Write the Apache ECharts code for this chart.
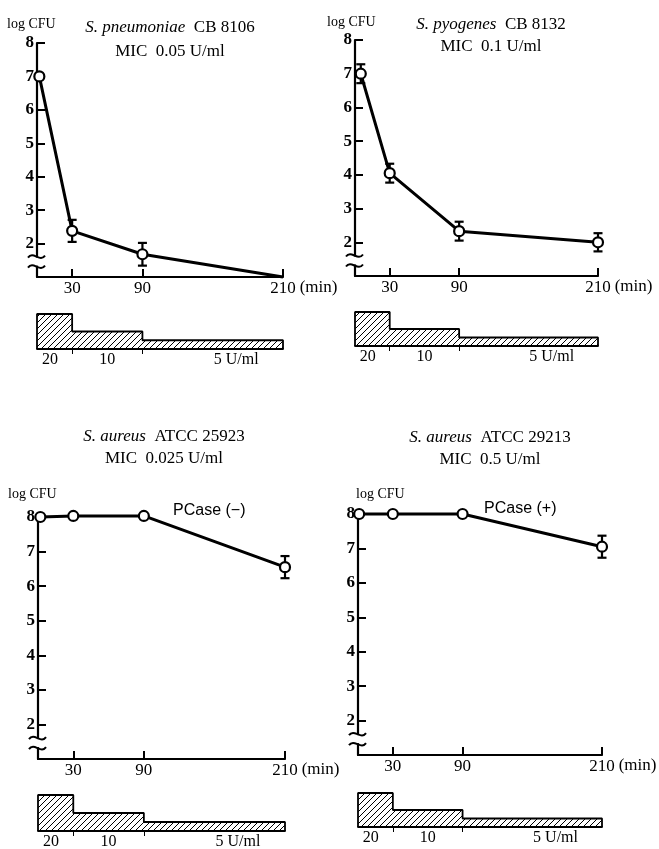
<!DOCTYPE html>
<html>
<head>
<meta charset="utf-8">
<script src="https://cdn.jsdelivr.net/npm/echarts@6/dist/echarts.min.js"></script>
<style>
html,body{margin:0;padding:0;background:#fff;}
#chart{width:659px;height:849px;}
</style>
</head>
<body>
<div id="chart"></div>
<script>
// ---------------- DATA ----------------
const timesTL = [2, 30, 90, 210];
const logTL   = [7.0, 2.38, 1.68, 1.0];
const errTL   = [0, 0.33, 0.34, 0];

const timesTR = [5, 30, 90, 210];
const logTR   = [7.0, 4.05, 2.33, 2.0];
const errTR   = [0.28, 0.28, 0.28, 0.27];

const timesBL = [2, 30, 90, 210];
const logBL   = [8.0, 8.03, 8.03, 6.55];
const errBL   = [0, 0, 0, 0.32];

const timesBR = [1, 30, 90, 210];
const logBR   = [8.0, 8.0, 8.0, 7.05];
const errBR   = [0, 0, 0, 0.32];

const xTickValues = [30, 90, 210];
const yTickValues = [2, 3, 4, 5, 6, 7, 8];
const yMin = 1, yMax = 8;
const breakAt = 1.46;

const doseStart = [0, 30, 90];
const doseEnd   = [30, 90, 210];
const doseLevel = [20, 10, 5];
const doseLabels = ['20', '10', '5 U/ml'];
const doseLabelAt = [11, 60, 170];

const species = ['S. pneumoniae', 'S. pyogenes', 'S. aureus', 'S. aureus'];
const strains = ['CB 8106', 'CB 8132', 'ATCC 25923', 'ATCC 29213'];
const mics    = ['MIC  0.05 U/ml', 'MIC  0.1 U/ml', 'MIC  0.025 U/ml', 'MIC  0.5 U/ml'];
const pcaseNotes = [null, null, 'PCase (\u2212)', 'PCase (+)'];

// ---------------- LAYOUT ----------------
const SERIF = '"Liberation Serif", "DejaVu Serif", serif';
const SANS = '"Liberation Sans", "DejaVu Sans", sans-serif';
const layout = [
  {left:37,  top:43,  w:246, h:234, dTop:314, dH:35, tX:170, tY1:28,  tY2:52,  logX:7,   logY:24},
  {left:355, top:40,  w:243, h:236, dTop:312, dH:34, tX:491, tY1:25,  tY2:47,  logX:327, logY:22},
  {left:38,  top:517, w:247, h:242, dTop:795, dH:36, tX:164, tY1:437, tY2:459, logX:8,   logY:494, pX:173, pY:511},
  {left:358, top:514, w:244, h:241, dTop:793, dH:34, tX:490, tY1:438, tY2:460, logX:356, logY:494, pX:484, pY:509}
];
const panels = [
  {t: timesTL, v: logTL, e: errTL},
  {t: timesTR, v: logTR, e: errTR},
  {t: timesBL, v: logBL, e: errBL},
  {t: timesBR, v: logBR, e: errBR}
];

// hatch pattern
const pc = document.createElement('canvas');
pc.width = 6; pc.height = 6;
const pctx = pc.getContext('2d');
pctx.strokeStyle = '#000';
pctx.lineWidth = 1;
pctx.beginPath();
pctx.moveTo(0, 6); pctx.lineTo(6, 0);
pctx.moveTo(-1, 1); pctx.lineTo(1, -1);
pctx.moveTo(5, 7); pctx.lineTo(7, 5);
pctx.stroke();

const grid = [], xAxis = [], yAxis = [], series = [], graphic = [];

layout.forEach((L, i) => {
  const P = panels[i];
  const gi = i * 2, di = i * 2 + 1;
  grid.push({left: L.left, top: L.top, width: L.w, height: L.h, outerBoundsMode: 'none'});
  grid.push({left: L.left, top: L.dTop, width: L.w, height: L.dH, outerBoundsMode: 'none'});

  xAxis.push({
    type: 'value', gridIndex: gi, min: 0, max: 210,
    axisLine: {show: true, onZero: false, lineStyle: {color: '#000', width: 2.2}},
    axisTick: {show: true, inside: true, length: 8, customValues: xTickValues, lineStyle: {color: '#000', width: 2}},
    axisLabel: {show: true, customValues: xTickValues, margin: 3, color: '#000',
      fontFamily: SERIF, fontSize: 17, formatter: v => String(v)},
    splitLine: {show: false},
    name: '(min)', nameLocation: 'end', nameGap: 12,
    nameTextStyle: {color: '#000', fontFamily: SERIF, fontSize: 17, verticalAlign: 'top', lineHeight: 22, align: 'left'}
  });
  yAxis.push({
    type: 'value', gridIndex: gi, min: yMin, max: yMax, interval: 1,
    axisLine: {show: true, lineStyle: {color: '#000', width: 2.2}},
    axisTick: {show: true, inside: true, length: 8, customValues: yTickValues, lineStyle: {color: '#000', width: 2}},
    axisLabel: {show: true, customValues: yTickValues, margin: 3, color: '#000',
      fontFamily: SERIF, fontSize: 17, fontWeight: 'bold'},
    splitLine: {show: false}
  });

  xAxis.push({
    type: 'value', gridIndex: di, min: 0, max: 210,
    axisLine: {show: true, onZero: true, lineStyle: {color: '#000', width: 1.8}},
    axisTick: {show: true, inside: false, length: 5, customValues: [doseStart[1], doseStart[2]], lineStyle: {color: '#000', width: 1}},
    axisLabel: {show: true, customValues: doseLabelAt, margin: 3, color: '#000',
      fontFamily: SERIF, fontSize: 16,
      formatter: v => doseLabels[doseLabelAt.indexOf(v)] || ''},
    splitLine: {show: false}
  });
  yAxis.push({
    type: 'value', gridIndex: di, min: 0, max: 20,
    axisLine: {show: false}, axisTick: {show: false}, axisLabel: {show: false}, splitLine: {show: false}
  });

  series.push({
    type: 'line', xAxisIndex: gi, yAxisIndex: gi, z: 5, clip: false,
    data: P.t.map((t, k) => ({value: [t, P.v[k]], symbol: P.v[k] <= yMin ? 'none' : 'circle'})),
    symbolSize: 10, showAllSymbol: true,
    lineStyle: {color: '#000', width: 3},
    itemStyle: {color: '#fff', borderColor: '#000', borderWidth: 2.2},
    animation: false, silent: true
  });
  series.push({
    type: 'custom', xAxisIndex: gi, yAxisIndex: gi, z: 3, clip: false,
    data: P.t.map((t, k) => [t, P.v[k], P.e[k]]).filter(d => d[2] > 0),
    renderItem: (params, api) => {
      const x = api.value(0), y = api.value(1), e = api.value(2);
      const a = api.coord([x, y + e]), b = api.coord([x, y - e]);
      const hw = 4.5, st = {stroke: '#000', lineWidth: 2.2};
      return {type: 'group', children: [
        {type: 'line', shape: {x1: a[0], y1: a[1], x2: b[0], y2: b[1]}, style: st},
        {type: 'line', shape: {x1: a[0] - hw, y1: a[1], x2: a[0] + hw, y2: a[1]}, style: st},
        {type: 'line', shape: {x1: b[0] - hw, y1: b[1], x2: b[0] + hw, y2: b[1]}, style: st}
      ]};
    },
    animation: false, silent: true
  });
  series.push({
    type: 'custom', xAxisIndex: gi, yAxisIndex: gi, z: 4, clip: false,
    data: [[0, breakAt]],
    renderItem: (params, api) => {
      const c = api.coord([api.value(0), api.value(1)]);
      const cx = c[0], cy = c[1];
      const st = {stroke: '#000', lineWidth: 2, fill: null};
      const tilde = dy => ({type: 'bezierCurve', shape: {
        x1: cx - 9, y1: cy + dy + 1, cpx1: cx - 4, cpy1: cy + dy - 6,
        cpx2: cx + 3, cpy2: cy + dy + 6, x2: cx + 8, y2: cy + dy - 1}, style: st});
      return {type: 'group', children: [
        {type: 'rect', shape: {x: cx - 3, y: cy - 4, width: 6, height: 8}, style: {fill: '#fff'}},
        tilde(-5), tilde(5)
      ]};
    },
    animation: false, silent: true
  });
  const dosePts = [[doseStart[0], 0]];
  doseLevel.forEach((lv, k) => { dosePts.push([doseStart[k], lv]); });
  dosePts.push([doseEnd[doseEnd.length - 1], doseLevel[doseLevel.length - 1]]);
  dosePts.push([doseEnd[doseEnd.length - 1], 0]);
  series.push({
    type: 'line', xAxisIndex: di, yAxisIndex: di, step: 'end',
    data: dosePts, symbol: 'none',
    lineStyle: {color: '#000', width: 1.8},
    areaStyle: {color: {image: pc, repeat: 'repeat'}, opacity: 1},
    animation: false, silent: true
  });

  graphic.push({
    type: 'text', x: L.tX, y: L.tY1,
    style: {text: '{i|' + species[i] + '}  ' + strains[i], align: 'center', verticalAlign: 'middle',
      fill: '#000', font: '17px ' + SERIF,
      rich: {i: {fontStyle: 'italic', fontFamily: SERIF, fontSize: 17, fill: '#000'}}}
  });
  graphic.push({
    type: 'text', x: L.tX, y: L.tY2,
    style: {text: mics[i], align: 'center', verticalAlign: 'middle', fill: '#000', font: '17px ' + SERIF}
  });
  graphic.push({
    type: 'text', x: L.logX, y: L.logY,
    style: {text: 'log CFU', align: 'left', verticalAlign: 'middle', fill: '#000', font: '14px ' + SERIF}
  });
  if (pcaseNotes[i]) {
    graphic.push({
      type: 'text', x: L.pX, y: L.pY,
      style: {text: pcaseNotes[i], align: 'left', verticalAlign: 'middle', fill: '#000', font: '16px ' + SANS}
    });
  }
});

const chart = echarts.init(document.getElementById('chart'), null, {renderer: 'canvas'});
chart.setOption({
  backgroundColor: '#fff',
  animation: false,
  grid, xAxis, yAxis, series, graphic
});
</script>
</body>
</html>
